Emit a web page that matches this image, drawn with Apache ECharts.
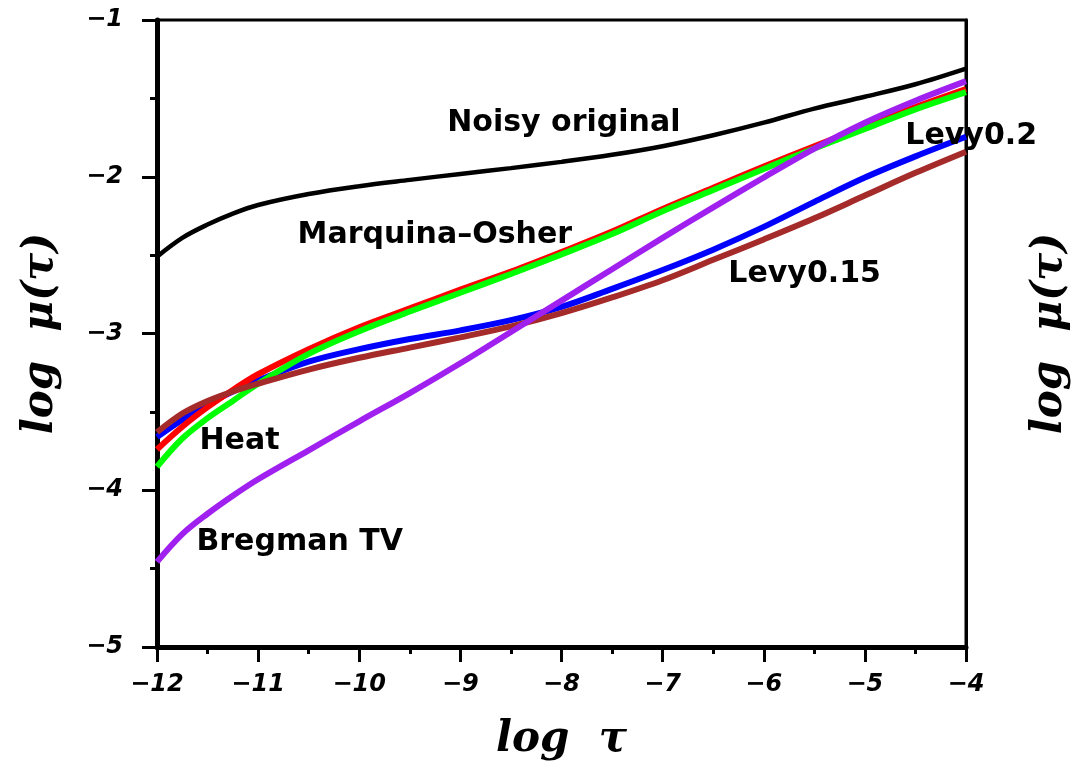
<!DOCTYPE html>
<html>
<head>
<meta charset="utf-8">
<script src="https://cdn.jsdelivr.net/npm/echarts@6/dist/echarts.min.js"></script>
<style>
html,body{margin:0;padding:0;background:#fff;}
#chart{width:1072px;height:764px;}
</style>
</head>
<body>
<div id="chart"></div>
<script>
// log tau sample positions
const logTau = [-12,-11.75,-11.5,-11.25,-11,-10.5,-10,-9.5,-9,-8.5,-8,-7.5,-7,-6.5,-6,-5.5,-5,-4.5,-4];
// series values: log mu(tau)
const noisyOriginal = [-2.51,-2.39,-2.305,-2.235,-2.18,-2.11,-2.06,-2.02,-1.982,-1.945,-1.905,-1.86,-1.805,-1.735,-1.655,-1.565,-1.49,-1.41,-1.31];
const heatRed      = [-3.74,-3.595,-3.47,-3.36,-3.26,-3.10,-2.96,-2.84,-2.72,-2.605,-2.48,-2.35,-2.205,-2.07,-1.935,-1.805,-1.68,-1.555,-1.44];
const marquinaGreen= [-3.85,-3.67,-3.54,-3.43,-3.32,-3.13,-2.985,-2.86,-2.74,-2.62,-2.495,-2.365,-2.22,-2.085,-1.95,-1.82,-1.695,-1.57,-1.46];
const levy02Blue   = [-3.66,-3.55,-3.45,-3.37,-3.30,-3.18,-3.10,-3.035,-2.98,-2.915,-2.83,-2.715,-2.595,-2.465,-2.32,-2.16,-2.005,-1.87,-1.745];
const levy015Brown = [-3.63,-3.51,-3.43,-3.37,-3.32,-3.23,-3.155,-3.09,-3.025,-2.955,-2.87,-2.77,-2.66,-2.53,-2.40,-2.265,-2.12,-1.975,-1.84];
const bregmanPurple= [-4.457,-4.28,-4.15,-4.035,-3.93,-3.745,-3.56,-3.38,-3.19,-2.99,-2.79,-2.59,-2.39,-2.195,-2.005,-1.82,-1.655,-1.515,-1.39];
// curve annotations: [log tau, log mu, text]
const annotations = [
  [-9.13,-1.658,'Noisy original'],
  [-10.61,-2.374,'Marquina\u2013Osher'],
  [-11.58,-3.69,'Heat'],
  [-11.61,-4.329,'Bregman TV'],
  [-6.35,-2.623,'Levy0.15'],
  [-4.60,-1.741,'Levy0.2']
];
// axis ranges
const xRange = [-12,-4];
const yRange = [-5,-1];

const pair = arr => logTau.map((t,i)=>[t,arr[i]]);
const fmt = v => String(v).replace('-','\u2212');
const tickFont = {fontFamily:'DejaVu Sans',fontWeight:'bold',fontStyle:'italic',fontSize:24,color:'#000'};
const titleFont = {fontFamily:'DejaVu Serif',fontWeight:'bold',fontStyle:'italic',fontSize:42,color:'#000'};

function line(name,data,color,width,z){
  return {name,type:'line',data:pair(data),showSymbol:false,smooth:0.35,z:z,
    lineStyle:{color,width,opacity:1},itemStyle:{color},emphasis:{disabled:true},clip:true};
}

const chart = echarts.init(document.getElementById('chart'),null,{renderer:'canvas'});
chart.setOption({
  animation:false,
  backgroundColor:'#fff',
  grid:{left:157,right:106,top:20,bottom:117,outerBoundsMode:'none',containLabel:false,
    show:true,borderColor:'#000',borderWidth:3,backgroundColor:'transparent'},
  xAxis:{type:'value',min:xRange[0],max:xRange[1],interval:1,
    name:'log  \u03c4',nameLocation:'middle',nameGap:72,nameTextStyle:titleFont,
    axisLine:{show:true,onZero:false,lineStyle:{color:'#000',width:5}},
    axisTick:{show:true,length:15,lineStyle:{color:'#000',width:3}},
    minorTick:{show:true,splitNumber:2,length:7,lineStyle:{color:'#000',width:3}},
    axisLabel:{...tickFont,margin:26,formatter:fmt},
    splitLine:{show:false}},
  yAxis:[{type:'value',min:yRange[0],max:yRange[1],interval:1,
    name:'log  \u03bc(\u03c4)',nameLocation:'middle',nameGap:95,nameRotate:90,nameTextStyle:titleFont,
    axisLine:{show:true,onZero:false,lineStyle:{color:'#000',width:5}},
    axisTick:{show:true,length:15,lineStyle:{color:'#000',width:3}},
    minorTick:{show:true,splitNumber:2,length:7,lineStyle:{color:'#000',width:3}},
    axisLabel:{...tickFont,margin:34,formatter:fmt},
    splitLine:{show:false}},
   {type:'value',position:'right',min:yRange[0],max:yRange[1],interval:1,
    name:'log  \u03bc(\u03c4)',nameLocation:'middle',nameGap:63,nameRotate:90,nameTextStyle:titleFont,
    axisLine:{show:true,onZero:false,lineStyle:{color:'#000',width:3}},
    axisTick:{show:false},axisLabel:{show:false},splitLine:{show:false}}],
  series:[
    line('Noisy original',noisyOriginal,'#000000',4.5,2),
    line('Levy0.2',levy02Blue,'#0000ff',6,3),
    line('Heat',heatRed,'#ff0000',6,4),
    line('Marquina-Osher',marquinaGreen,'#00ff00',6,5),
    line('Levy0.15',levy015Brown,'#a52a2a',6,6),
    line('Bregman TV',bregmanPurple,'#a020f0',6,7),
    {type:'scatter',data:annotations,symbolSize:0,z:10,clip:false,silent:true,
      itemStyle:{opacity:1},
      label:{show:true,position:'right',distance:0,formatter:p=>p.data[2],opacity:1,
        fontFamily:'DejaVu Sans',fontWeight:'bold',fontSize:30,color:'#000'}}
  ]
});
</script>
</body>
</html>
